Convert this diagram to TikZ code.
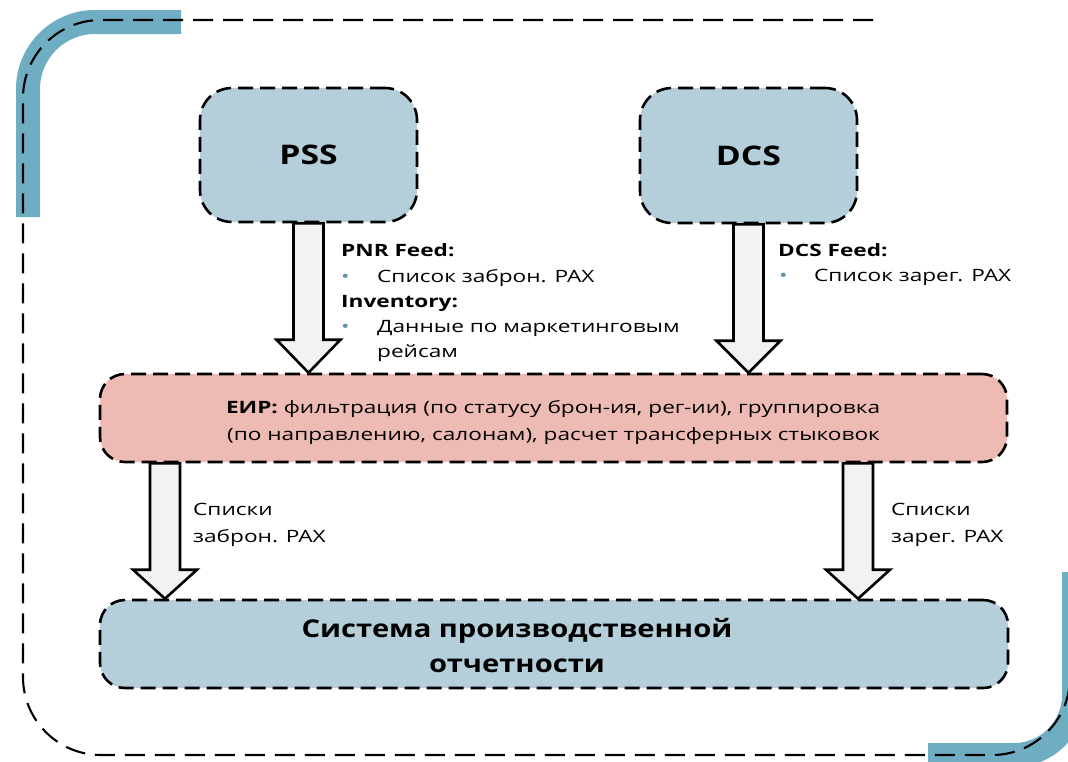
\documentclass[tikz,border=0pt]{standalone}
\usepackage{fontspec}
\setmainfont{Open Sans}[FakeStretch=1.33]
\newfontfamily\bigfont{Open Sans}[FakeStretch=1.19]
\newfontfamily\titlefont{Open Sans}[FakeStretch=1.25]
\usetikzlibrary{calc}
\definecolor{boxblue}{HTML}{B4CEDA}
\definecolor{boxpink}{HTML}{EEBAB4}
\definecolor{bandc}{HTML}{6FADC3}
\definecolor{arrfill}{HTML}{F2F2F2}
\definecolor{bulletc}{HTML}{5F93AA}
\tikzset{
  dashbox/.style={draw=black, line width=2.6pt, dash pattern=on 15pt off 7pt, inner sep=0pt},
  framepath/.style={draw=black, line width=2.1pt, dash pattern=on 20pt off 10pt, rounded corners=78pt},
  bandline/.style={draw=bandc, line width=24pt},
  blockarr/.style={draw=black, fill=arrfill, line width=2.6pt, line join=miter},
  lbl/.style={anchor=base west, inner sep=0pt, font=\fontsize{17}{20}\selectfont},
  clbl/.style={anchor=base, inner sep=0pt, font=\fontsize{17}{20}\selectfont},
  biglbl/.style={anchor=base, inner sep=0pt, font=\bigfont\fontsize{24.5}{28}\selectfont\bfseries},
  titletext/.style={font=\titlefont\fontsize{27}{30}\selectfont\bfseries},
}
\newcommand\blockarrow[3]{%
  \draw[blockarr] let \p1=#1, \p2=#2 in
    (\x1-15pt,\y1) -- (\x1-15pt,\y2+#3) -- (\x1-32pt,\y2+#3) -- (\x1,\y2)
    -- (\x1+32pt,\y2+#3) -- (\x1+15pt,\y2+#3) -- (\x1+15pt,\y1) -- cycle;}
\newcommand\bul{\textcolor{bulletc}{•}}
\begin{document}
\begin{tikzpicture}[x=1pt, y=-1pt]
\useasboundingbox (0,0) rectangle (1068,761);
% decorative bands
\draw[bandline, rounded corners=67pt] (181,22) -- (28,22) -- (28,217);
\draw[bandline, rounded corners=60pt] (928,755) -- (1074,755) -- (1074,572);
% dashed frame
\draw[framepath] (873,20) -- (23,20) -- (23,755) -- (1070,755) -- (1070,560);
% boxes
\node[dashbox, fill=boxblue, rounded corners=32pt, minimum width=217pt, minimum height=134pt, titletext] (pss) at (308.5,155) {\raisebox{-5pt}{PSS}};
\node[dashbox, fill=boxblue, rounded corners=32pt, minimum width=217pt, minimum height=135pt, titletext] (dcs) at (748.5,155.5) {DCS};
\node[dashbox, fill=boxpink, rounded corners=25pt, minimum width=907pt, minimum height=88pt] (eir) at (553.5,418) {};
\node[dashbox, fill=boxblue, rounded corners=25pt, minimum width=908pt, minimum height=88pt] (sys) at (554,644) {};
% arrow anchors
\coordinate (la) at (165,0);
\coordinate (ra) at (858,0);
% arrows
\blockarrow{(pss.south)}{(pss.south |- eir.north)}{33pt}
\blockarrow{(dcs.south)}{(dcs.south |- eir.north)}{32pt}
\blockarrow{(la |- eir.south)}{(la |- sys.north)}{29pt}
\blockarrow{(ra |- eir.south)}{(ra |- sys.north)}{29pt}
% PSS feed text
\node[lbl] (pnrh) at (341,256) {\bfseries PNR Feed:};
\node[lbl] (b1) at (341,282) {\bul};
\node[lbl] (t1) at (377,282) {Список заброн. PAX};
\node[lbl] (invh) at (341,307) {\bfseries Inventory:};
\node[lbl] (b2) at (341,332) {\bul};
\node[lbl] (t2) at (377,332) {Данные по маркетинговым};
\node[lbl] (t3) at (377,357) {рейсам};
% DCS feed text
\node[lbl] (dcsh) at (778,256) {\bfseries DCS Feed:};
\node[lbl] (b3) at (779,281) {\bul};
\node[lbl] (t4) at (814,281) {Список зарег. PAX};
% EIR text
\node[clbl] (e1) at (553,413) {\bfseries ЕИР:\mdseries{} фильтрация (по статусу брон-ия, рег-ии), группировка};
\node[clbl] (e2) at (553.5,440) {(по направлению, салонам), расчет трансферных стыковок};
% lower labels
\node[lbl] (l1) at (193,515) {Списки};
\node[lbl] (l2) at (193,542) {заброн. PAX};
\node[lbl] (r1) at (891,515) {Списки};
\node[lbl] (r2) at (891,542) {зарег. PAX};
% system text
\node[biglbl] (s1) at (517,637) {Система производственной};
\node[biglbl] (s2) at (517,672) {отчетности};
\end{tikzpicture}
\end{document}
